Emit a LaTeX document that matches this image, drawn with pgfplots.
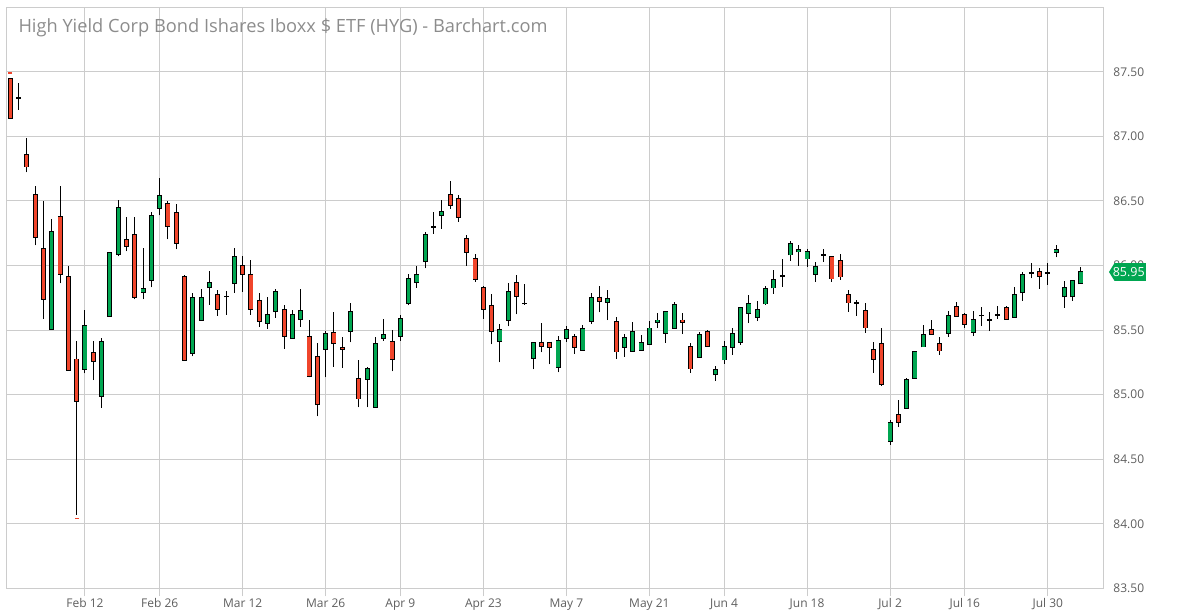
\documentclass[border=0pt]{standalone}
\usepackage{fontspec}
\setmainfont{Open Sans}
\usepackage{pgfplots}
\usepackage{pgfplotstable}
\pgfplotsset{compat=1.18}
\definecolor{upg}{HTML}{00A651}
\definecolor{dnr}{HTML}{F0452B}
\definecolor{gridc}{HTML}{CCCCCC}
\definecolor{lblc}{HTML}{5E5E5E}
\definecolor{titc}{HTML}{8C8C8C}
% up candles (close above open)
\pgfplotstableread{
i o h l c
6 85.508 86.360 85.508 86.260
10 85.198 85.658 85.164 85.531
12 84.988 85.438 84.900 85.407
13 85.609 86.097 85.609 86.097
14 86.089 86.510 86.071 86.446
17 85.795 86.136 85.738 85.818
18 85.888 86.415 85.831 86.384
19 86.446 86.681 86.389 86.539
23 85.322 85.790 85.297 85.749
24 85.575 85.817 85.575 85.753
25 85.830 85.956 85.696 85.869
28 85.861 86.134 85.789 86.070
32 85.552 85.755 85.510 85.621
33 85.644 85.817 85.595 85.799
35 85.436 85.652 85.436 85.621
36 85.582 85.817 85.526 85.652
39 85.351 85.490 85.134 85.474
42 85.490 85.709 85.405 85.644
44 85.119 85.211 84.902 85.204
45 84.902 85.443 84.902 85.397
46 85.436 85.582 85.418 85.466
48 85.451 85.613 85.418 85.590
49 85.706 85.938 85.691 85.899
50 85.869 86.000 85.827 85.930
51 86.031 86.263 85.977 86.240
53 86.387 86.510 86.284 86.418
60 85.412 85.544 85.250 85.505
61 85.575 85.861 85.528 85.799
64 85.281 85.405 85.196 85.405
67 85.211 85.451 85.173 85.420
68 85.433 85.533 85.410 85.503
70 85.346 85.538 85.346 85.508
71 85.569 85.785 85.546 85.754
73 85.715 85.808 85.577 85.746
75 85.369 85.469 85.292 85.438
76 85.338 85.562 85.338 85.485
77 85.346 85.462 85.338 85.400
78 85.392 85.569 85.392 85.515
79 85.562 85.631 85.515 85.577
80 85.477 85.646 85.400 85.646
81 85.515 85.715 85.515 85.700
84 85.292 85.485 85.292 85.462
86 85.154 85.223 85.108 85.192
87 85.269 85.415 85.238 85.369
88 85.369 85.515 85.308 85.469
89 85.408 85.677 85.385 85.677
90 85.631 85.769 85.554 85.708
91 85.602 85.723 85.569 85.656
92 85.703 85.842 85.695 85.819
93 85.827 85.966 85.780 85.889
95 86.083 86.191 86.036 86.168
96 86.106 86.160 86.000 86.121
97 86.052 86.129 85.990 86.106
98 85.935 86.028 85.873 85.990
107 84.641 84.804 84.610 84.780
109 84.897 85.129 84.897 85.114
110 85.129 85.331 85.129 85.331
111 85.370 85.540 85.370 85.463
114 85.478 85.649 85.447 85.610
117 85.484 85.651 85.453 85.578
122 85.602 85.831 85.602 85.773
123 85.789 85.953 85.727 85.930
127 86.102 86.159 86.063 86.125
128 85.758 85.883 85.672 85.828
129 85.758 85.891 85.727 85.883
130 85.859 85.992 85.859 85.953
}\up
% down candles (close below open)
\pgfplotstableread{
i o h l c
1 87.446 87.455 87.143 87.143
3 86.857 86.991 86.722 86.764
4 86.547 86.619 86.156 86.221
5 86.128 86.500 85.585 85.740
7 86.376 86.619 85.862 85.934
8 85.911 85.999 85.190 85.190
9 85.275 85.417 84.070 84.950
11 85.322 85.417 85.113 85.260
15 86.198 86.376 86.110 86.151
16 86.236 86.376 85.738 85.756
20 86.477 86.500 86.203 86.306
21 86.407 86.479 86.125 86.174
22 85.911 85.929 85.267 85.267
26 85.776 85.809 85.611 85.660
29 85.997 86.070 85.796 85.930
30 85.930 86.041 85.619 85.660
31 85.729 85.784 85.526 85.567
34 85.660 85.696 85.356 85.451
37 85.451 85.575 85.134 85.139
38 85.296 85.397 84.832 84.925
40 85.482 85.637 85.216 85.397
41 85.366 85.443 85.209 85.351
43 85.126 85.265 84.902 84.967
47 85.412 85.500 85.180 85.273
54 86.549 86.657 86.441 86.464
55 86.518 86.549 86.340 86.371
56 86.209 86.240 86.000 86.101
57 86.054 86.093 85.874 85.892
58 85.830 85.845 85.588 85.660
59 85.691 85.776 85.389 85.490
62 85.869 85.923 85.621 85.760
65 85.405 85.552 85.327 85.374
66 85.405 85.405 85.234 85.366
69 85.446 85.469 85.315 85.369
72 85.754 85.841 85.638 85.723
74 85.562 85.600 85.277 85.331
82 85.577 85.631 85.469 85.562
83 85.369 85.400 85.169 85.200
85 85.485 85.500 85.369 85.377
100 86.067 86.067 85.873 85.897
101 86.036 86.090 85.889 85.912
102 85.773 85.811 85.641 85.711
104 85.649 85.711 85.478 85.517
105 85.346 85.408 85.168 85.276
106 85.393 85.517 85.067 85.083
108 84.842 84.959 84.749 84.788
112 85.501 85.579 85.470 85.470
113 85.393 85.447 85.307 85.339
115 85.680 85.721 85.609 85.609
116 85.617 85.633 85.516 85.547
121 85.672 85.690 85.586 85.586
125 85.953 85.984 85.820 85.914
}\down
% doji candles (close equal to open)
\pgfplotstableread{
i o h l c
2 87.298 87.415 87.208 87.298
27 85.760 85.804 85.619 85.760
52 86.299 86.412 86.247 86.299
63 85.706 85.853 85.698 85.706
94 85.917 86.052 85.835 85.917
99 86.083 86.129 86.028 86.083
103 85.711 85.734 85.610 85.711
118 85.612 85.682 85.531 85.612
119 85.578 85.643 85.492 85.578
120 85.617 85.690 85.586 85.617
124 85.940 86.016 85.901 85.940
126 85.940 86.016 85.852 85.940
}\doji
\begin{document}
\begin{tikzpicture}
\path[use as bounding box] (0,0) rectangle (1179pt,610pt);
\begin{axis}[
  at={(6.3pt,21.7pt)}, anchor=south west,
  scale only axis, width=1097pt, height=581pt,
  xmin=0.518, xmax=132.69, ymin=83.5, ymax=88,
  xtick={10,19,29,39,48,58,68,78,87,97,107,116,126},
  xticklabels={Feb 12,Feb 26,Mar 12,Mar 26,Apr 9,Apr 23,May 7,May 21,Jun 4,Jun 18,Jul 2,Jul 16,Jul 30},
  ytick={83.5,84,84.5,85,85.5,86,86.5,87,87.5},
  xmajorgrids, ymajorgrids,
  grid style={gridc, line width=1pt},
  axis line style={gridc, line width=1pt},
  tick align=outside, major tick length=8pt,
  xtick pos=left, ytick pos=right, yticklabel pos=right,
  xtick style={gridc, line width=1pt},
  ytick style={draw=none},
  tick label style={text=lblc, font=\fontsize{12}{14}\selectfont},
  yticklabel style={anchor=west, inner sep=0pt, xshift=2pt},
  xticklabel style={inner sep=0pt, yshift=-2pt},
  /pgf/number format/fixed, /pgf/number format/fixed zerofill,
  /pgf/number format/precision=2, /pgf/number format/assume math mode=true,
  wick/.style={black, line width=1pt, mark=none},
]
% wicks
\addplot[wick, quiver={u=0, v=\thisrow{h}-\thisrow{l}}] table[x=i, y=l] {\up};
\addplot[wick, quiver={u=0, v=\thisrow{h}-\thisrow{l}}] table[x=i, y=l] {\down};
\addplot[wick, quiver={u=0, v=\thisrow{h}-\thisrow{l}}] table[x=i, y=l] {\doji};
% up bodies
\addplot[black, line width=5pt, mark=none, quiver={u=0, v=\thisrow{c}-\thisrow{o}+0.0093}] table[x=i, y expr=\thisrow{o}-0.00465] {\up};
\addplot[upg, line width=3.2pt, mark=none, quiver={u=0, v=\thisrow{c}-\thisrow{o}-0.0046}] table[x=i, y expr=\thisrow{o}+0.0023] {\up};
% down bodies
\addplot[black, line width=5pt, mark=none, quiver={u=0, v=\thisrow{c}-\thisrow{o}-0.0093}] table[x=i, y expr=\thisrow{o}+0.00465] {\down};
\addplot[dnr, line width=3.2pt, mark=none, quiver={u=0, v=\thisrow{c}-\thisrow{o}+0.0046}] table[x=i, y expr=\thisrow{o}-0.0023] {\down};
% doji bodies
\addplot[black, line width=5pt, mark=none, quiver={u=0, v=0.0124}] table[x=i, y expr=\thisrow{o}-0.0062] {\doji};
% high / low markers
\addplot[only marks, mark=-, mark size=2pt, dnr, line width=1.6pt] coordinates {(1,87.49) (9,84.04)};
\coordinate (tg) at (axis cs:132.69,85.95);
\end{axis}
\begin{scope}[shift={(tg)}]
\fill[upg] (5.7pt,0) -- (11.2pt,8.85pt) -- (42.7pt,8.85pt) -- (42.7pt,-8.85pt) -- (11.2pt,-8.85pt) -- cycle;
\node[text=white, inner sep=0pt, font=\fontsize{12.5}{14}\selectfont] at (25.5pt,0) {85.95};
\end{scope}
\node[anchor=base west, inner sep=0pt, text=titc, font=\fontsize{18.25}{18}\selectfont] at (18.3pt,577.3pt) {High Yield Corp Bond Ishares Iboxx \$ ETF (HYG) - Barchart.com};
\end{tikzpicture}
\end{document}
